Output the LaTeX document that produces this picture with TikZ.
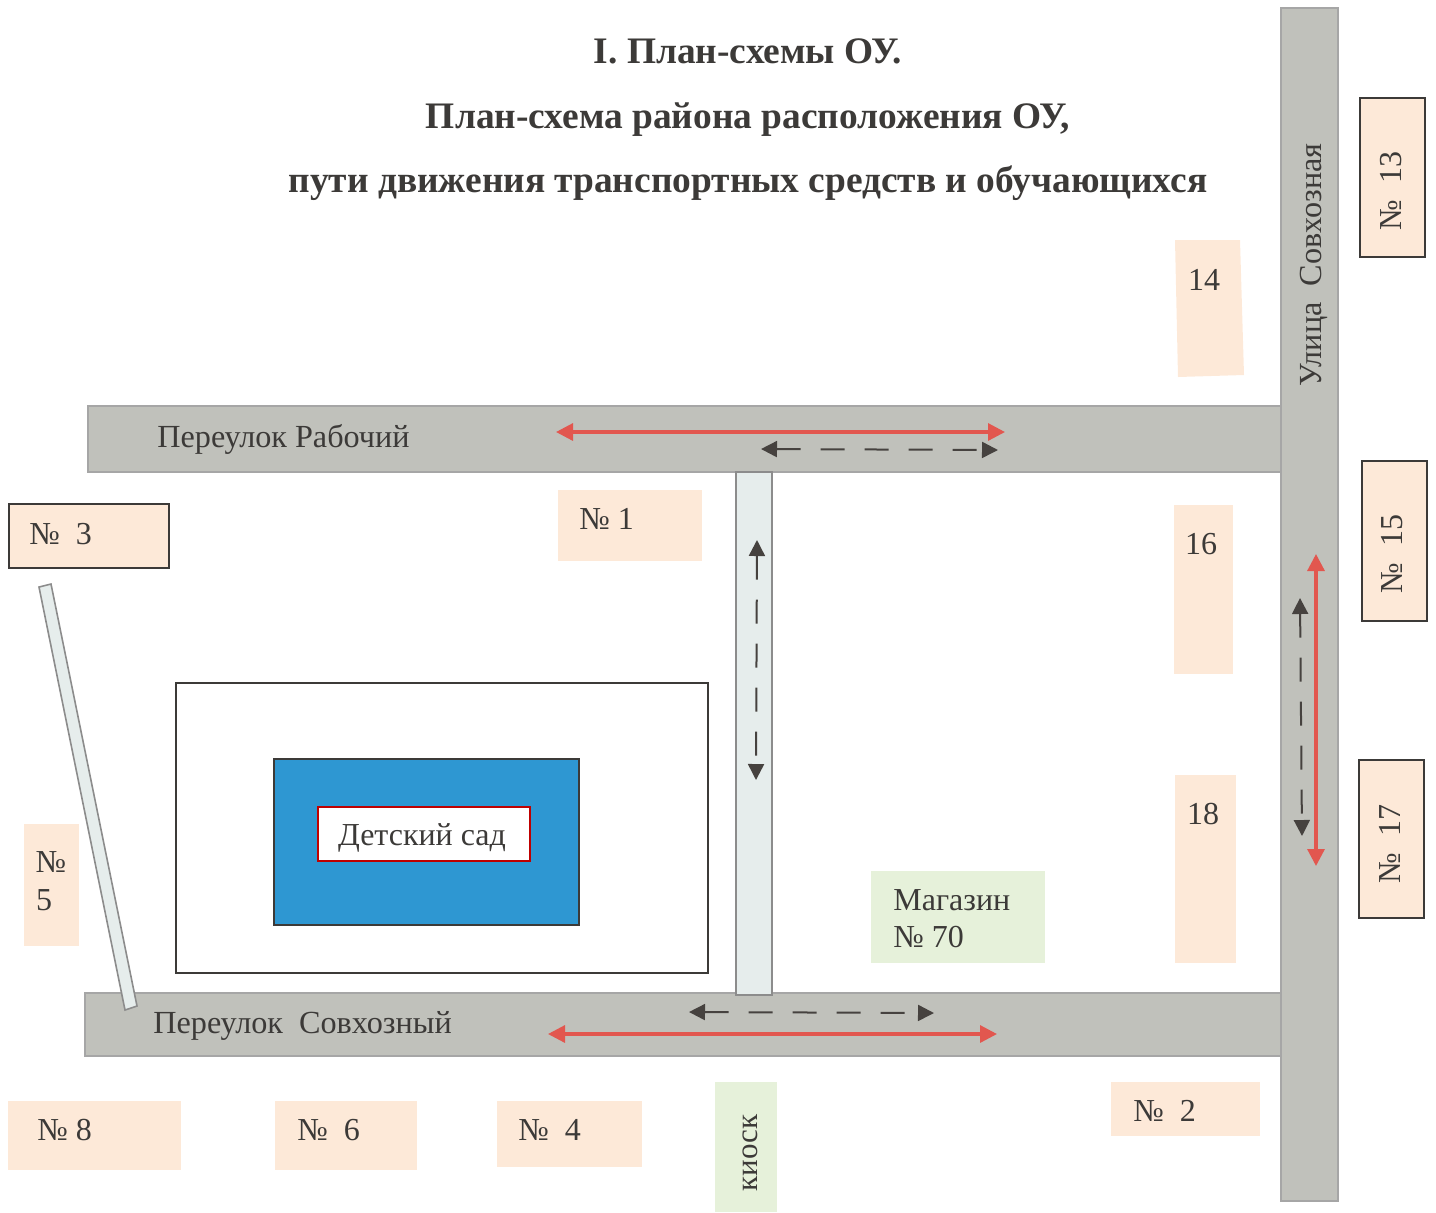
\documentclass[tikz,border=0pt]{standalone}
\usepackage{fontspec}
\setmainfont{Liberation Serif}
\usetikzlibrary{arrows.meta}
\definecolor{roadgray}{HTML}{C0C1BB}
\definecolor{lanegray}{HTML}{E6EDEC}
\definecolor{housepeach}{HTML}{FDE9D8}
\definecolor{shopgreen}{HTML}{E6F1DA}
\definecolor{schoolblue}{HTML}{2E97D2}
\definecolor{routered}{HTML}{E2574F}
\definecolor{routegray}{HTML}{46423F}
\definecolor{inkgray}{HTML}{3C3A38}
\tikzset{
    road/.style={draw=gray!70, fill=roadgray, line width=0.7pt},
    lane/.style={draw=gray!90, fill=lanegray, line width=0.8pt},
    house/.style={fill=housepeach},
    boxhouse/.style={draw=inkgray, fill=housepeach, line width=0.8pt},
    shop/.style={fill=shopgreen},
    tag/.style={text=inkgray, font=\fontsize{16}{18}\selectfont, inner sep=0pt},
    roadtag/.style={text=inkgray, font=\fontsize{16.1}{18}\selectfont, inner sep=0pt},
    headline/.style={text=inkgray, font=\bfseries\fontsize{18.7}{20}\selectfont, inner sep=0pt, anchor=base},
    carroute/.style={routered, line width=1.6pt, {Triangle[length=8.5pt,width=8.5pt]}-{Triangle[length=8.5pt,width=8.5pt]}},
    walkroute/.style={routegray, line width=1pt, dash pattern=on 12pt off 10pt, {Triangle[length=8pt,width=8pt]}-{Triangle[length=8pt,width=8pt]}},
}
\begin{document}
\begin{tikzpicture}[x=0.5pt, y=-0.5pt]
    \useasboundingbox (0,0) rectangle (1436,1212);

    %Title
    \node[headline] (TitleA) at (748,63) {I. План-схемы ОУ.};
    \node[headline] (TitleB) at (748,128) {План-схема района расположения ОУ,};
    \node[headline] (TitleC) at (748,192) {пути движения транспортных средств и обучающихся};

    %Roads
    \draw[road] (88,406) rectangle (1283,472);
    \draw[road] (85,993) rectangle (1281,1056);
    \draw[road] (1281,8) rectangle (1338,1201);
    \draw[lane] (736,472) rectangle (772,995);
    \draw[lane] (39,587) -- (51,584) -- (137,1006) -- (125,1010) -- cycle;

    %Kindergarten
    \draw[draw=inkgray, line width=0.8pt] (176,683) rectangle (708,973);
    \draw[draw=inkgray, fill=schoolblue, line width=0.8pt] (274,759) rectangle (579,925);
    \node[draw=red!75!black, fill=white, line width=0.8pt, minimum width=106pt, minimum height=27pt] (Kindergarten) at (424,834) {};
    \node[tag] (KindergartenTag) at (422,838) {Детский сад};

    %Houses
    \draw[boxhouse] (1360,98) rectangle (1425,257);
    \draw[boxhouse] (1362,461) rectangle (1427,621);
    \draw[boxhouse] (1359,760) rectangle (1424,918);
    \draw[boxhouse] (9,504) rectangle (169,568);
    \fill[house] (1175,240) -- (1240,240) -- (1244,375) -- (1178,377) -- cycle;
    \fill[house] (1174,505) rectangle (1233,674);
    \fill[house] (1175,775) rectangle (1236,963);
    \fill[house] (558,490) rectangle (702,561);
    \fill[house] (24,824) rectangle (79,946);
    \fill[house] (1111,1082) rectangle (1260,1136);
    \fill[house] (8,1101) rectangle (181,1170);
    \fill[house] (275,1101) rectangle (417,1170);
    \fill[house] (497,1101) rectangle (642,1167);
    \fill[shop] (871,871) rectangle (1045,963);
    \fill[shop] (715,1082) rectangle (777,1212);

    %Labels
    \node[roadtag, anchor=west] (Rabochy) at (157,439) {Переулок Рабочий};
    \node[roadtag, anchor=west] (Sovkhozny) at (153,1026) {Переулок\ \ Совхозный};
    \node[roadtag, rotate=90] (Sovkhoznaya) at (1314,265) {Улица\ \ Совхозная};
    \node[tag, rotate=90] (HouseC) at (1391,191) {№\ \ 13};
    \node[tag, rotate=90] (HouseD) at (1392,554) {№\ \ 15};
    \node[tag, rotate=90] (HouseE) at (1390,844) {№\ \ 17};
    \node[tag] (HouseF) at (1204,280) {14};
    \node[tag] (HouseG) at (1201,544) {16};
    \node[tag] (HouseH) at (1203,814) {18};
    \node[tag, anchor=west] (HouseA) at (579,519) {№ 1};
    \node[tag, anchor=west] (HouseB) at (29,534) {№\ \ 3};
    \node[tag] (HouseI) at (51,862) {№};
    \node[tag] (HouseJ) at (44,900) {5};
    \node[tag, anchor=west] (HouseK) at (1133,1111) {№\ \ 2};
    \node[tag, anchor=west] (HouseL) at (37,1130) {№ 8};
    \node[tag, anchor=west] (HouseM) at (297,1130) {№\ \ 6};
    \node[tag, anchor=west] (HouseN) at (518,1130) {№\ \ 4};
    \node[tag, anchor=west] (ShopA) at (893,900) {Магазин};
    \node[tag, anchor=west] (ShopB) at (893,937) {№ 70};
    \node[tag, rotate=90, font=\fontsize{15.5}{16}\selectfont] (Kiosk) at (750,1153) {киоск};

    %Routes
    \coordinate (RedAL) at (556,432);
    \coordinate (RedAR) at (1005,432);
    \coordinate (WalkAL) at (761,449);
    \coordinate (WalkAR) at (998,450);
    \coordinate (WalkBT) at (757,540);
    \coordinate (WalkBB) at (756,780);
    \coordinate (RedCT) at (1316,554);
    \coordinate (RedCB) at (1316,866);
    \coordinate (WalkCT) at (1300,598);
    \coordinate (WalkCB) at (1302,836);
    \coordinate (WalkDL) at (689,1012);
    \coordinate (WalkDR) at (934,1013);
    \coordinate (RedDL) at (548,1034);
    \coordinate (RedDR) at (997,1034);
    \draw[carroute] (RedAL) -- (RedAR);
    \draw[walkroute] (WalkAL) -- (WalkAR);
    \draw[walkroute] (WalkBT) -- (WalkBB);
    \draw[carroute] (RedCT) -- (RedCB);
    \draw[walkroute] (WalkCT) -- (WalkCB);
    \draw[walkroute] (WalkDL) -- (WalkDR);
    \draw[carroute] (RedDL) -- (RedDR);
\end{tikzpicture}
\end{document}
